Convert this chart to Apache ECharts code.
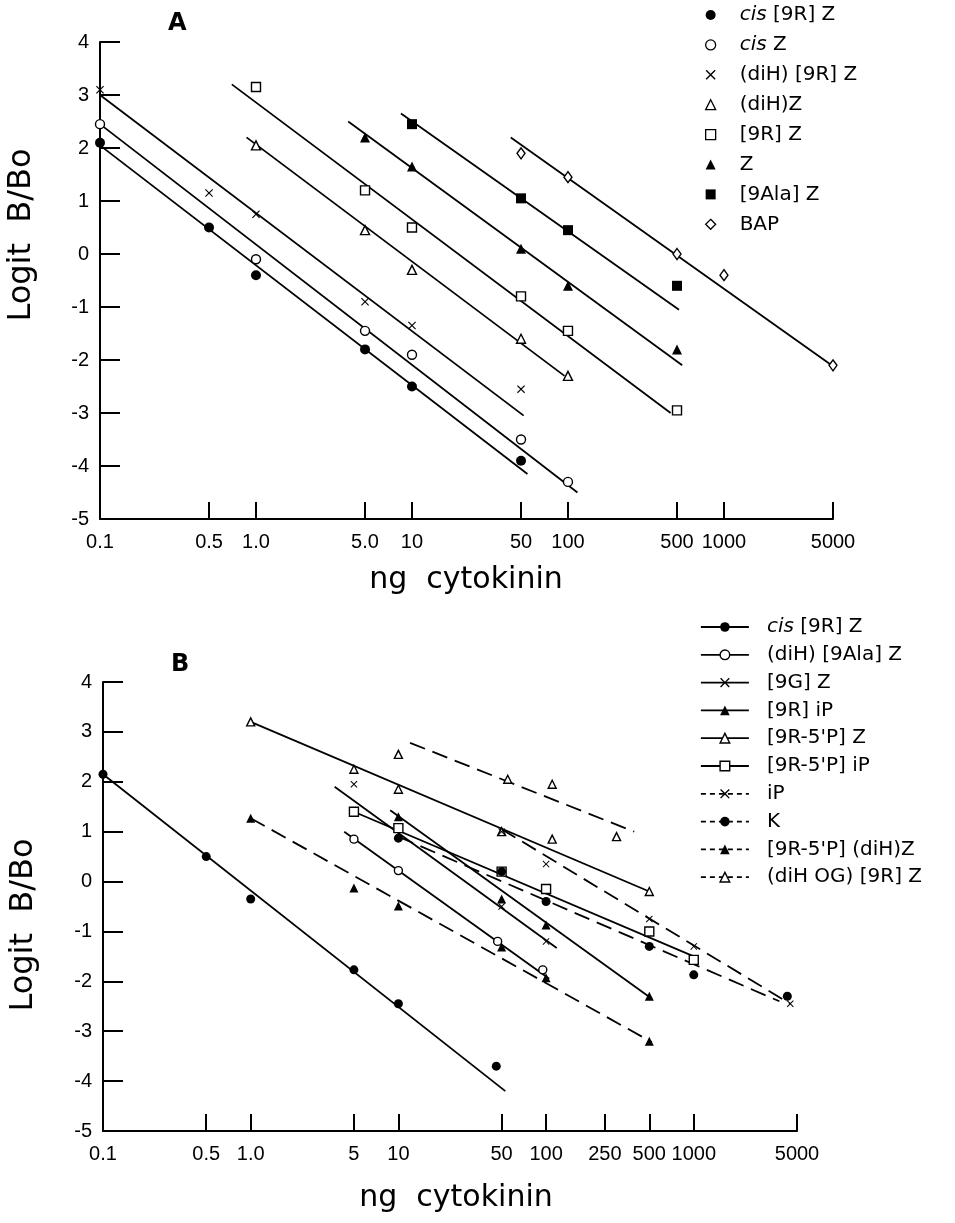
<!DOCTYPE html>
<html><head><meta charset="utf-8">
<script src="https://cdn.jsdelivr.net/npm/echarts@6/dist/echarts.min.js"></script>
<style>html,body{margin:0;padding:0;background:#fff}#c{width:955px;height:1223px}</style>
</head><body><div id="c"></div>
<script>
// ================= DATA =================
// ---- Panel A ----
const ticksA = [0.1, 0.5, 1, 5, 10, 50, 100, 500, 1000, 5000];
const tickLabelsA = ['0.1', '0.5', '1.0', '5.0', '10', '50', '100', '500', '1000', '5000'];
const yTicks = [-5, -4, -3, -2, -1, 0, 1, 2, 3, 4];
const namesA = ['cis [9R] Z', 'cis Z', '(diH) [9R] Z', '(diH)Z', '[9R] Z', 'Z', '[9Ala] Z', 'BAP'];

const A_cis9RZ_x = [0.1, 0.5, 1, 5, 10, 50];
const A_cis9RZ_y = [2.1, 0.5, -0.4, -1.8, -2.5, -3.9];
const A_cis9RZ_fit = [[0.1, 2.05], [55, -4.15]];

const A_cisZ_x = [0.1, 1, 5, 10, 50, 100];
const A_cisZ_y = [2.45, -0.1, -1.45, -1.9, -3.5, -4.3];
const A_cisZ_fit = [[0.1, 2.45], [115, -4.5]];

const A_diH9RZ_x = [0.1, 0.5, 1, 5, 10, 50];
const A_diH9RZ_y = [3.1, 1.15, 0.75, -0.9, -1.35, -2.55];
const A_diH9RZ_fit = [[0.1, 3.0], [52, -3.05]];

const A_diHZ_x = [1, 5, 10, 50, 100];
const A_diHZ_y = [2.05, 0.45, -0.3, -1.6, -2.3];
const A_diHZ_fit = [[0.87, 2.2], [95, -2.3]];

const A_9RZ_x = [1, 5, 10, 50, 100, 500];
const A_9RZ_y = [3.15, 1.2, 0.5, -0.8, -1.45, -2.95];
const A_9RZ_fit = [[0.7, 3.2], [455, -3.0]];

const A_Z_x = [5, 10, 50, 100, 500];
const A_Z_y = [2.2, 1.65, 0.1, -0.6, -1.8];
const A_Z_fit = [[3.9, 2.5], [540, -2.1]];

const A_9AlaZ_x = [10, 50, 100, 500];
const A_9AlaZ_y = [2.45, 1.05, 0.45, -0.6];
const A_9AlaZ_fit = [[8.5, 2.65], [515, -1.05]];

const A_BAP_x = [50, 100, 500, 1000, 5000];
const A_BAP_y = [1.9, 1.45, 0.0, -0.4, -2.1];
const A_BAP_fit = [[43, 2.2], [5800, -2.25]];

// ---- Panel B ----
const ticksB = [0.1, 0.5, 1, 5, 10, 50, 100, 250, 500, 1000, 5000];
const tickLabelsB = ['0.1', '0.5', '1.0', '5', '10', '50', '100', '250', '500', '1000', '5000'];
const namesB = ['cis [9R] Z', '(diH) [9Ala] Z', '[9G] Z', '[9R] iP', "[9R-5'P] Z", "[9R-5'P] iP", 'iP', 'K', "[9R-5'P] (diH)Z", '(diH OG) [9R] Z'];

const B_cis9RZ_x = [0.1, 0.5, 1, 5, 10, 46];
const B_cis9RZ_y = [2.15, 0.5, -0.35, -1.77, -2.45, -3.7];
const B_cis9RZ_fit = [[0.1, 2.15], [53, -4.2]];

const B_diH9AlaZ_x = [5, 10, 47, 95];
const B_diH9AlaZ_y = [0.85, 0.22, -1.2, -1.77];
const B_diH9AlaZ_fit = [[4.3, 1.0], [105, -1.95]];

const B_9GZ_x = [5, 50, 100];
const B_9GZ_y = [1.95, -0.5, -1.2];
const B_9GZ_fit = [[3.7, 1.9], [118, -1.33]];

const B_9RiP_x = [10, 50, 100, 500];
const B_9RiP_y = [1.3, -0.35, -0.87, -2.3];
const B_9RiP_fit = [[8.8, 1.43], [520, -2.35]];

const B_9R5PZ_x = [1, 5, 10, 50, 500];
const B_9R5PZ_y = [3.2, 2.25, 1.85, 1.0, -0.2];
const B_9R5PZ_fit = [[1, 3.2], [500, -0.2]];

const B_9R5PiP_x = [5, 10, 50, 100, 500, 1000];
const B_9R5PiP_y = [1.4, 1.07, 0.2, -0.15, -1.0, -1.57];
const B_9R5PiP_fit = [[5, 1.4], [1000, -1.5]];

const B_iP_x = [50, 100, 500, 1000, 4500];
const B_iP_y = [1.0, 0.35, -0.75, -1.3, -2.45];
const B_iP_fit = [[50, 1.05], [4500, -2.45]];

const B_K_x = [10, 50, 100, 500, 1000, 4300];
const B_K_y = [0.87, 0.2, -0.4, -1.3, -1.87, -2.3];
const B_K_fit = [[10, 0.9], [3800, -2.4]];

const B_9R5PdiHZ_x = [1, 5, 10, 50, 100, 500];
const B_9R5PdiHZ_y = [1.27, -0.13, -0.49, -1.31, -1.93, -3.2];
const B_9R5PdiHZ_fit = [[1, 1.27], [520, -3.22]];

const B_diHOG9RZ_x = [10, 55, 110, 110, 300];
const B_diHOG9RZ_y = [2.55, 2.05, 1.95, 0.85, 0.9];
const B_diHOG9RZ_fit = [[12, 2.78], [395, 1.0]];

// ================= STYLE =================
const FONT = '"DejaVu Sans", "Liberation Sans", sans-serif';
const TICKFONT = '"Liberation Sans", "DejaVu Sans", sans-serif';
const X_SYM = 'path://M0,1L1,0L5,4L9,0L10,1L6,5L10,9L9,10L5,6L1,10L0,9L4,5Z';
const FILLED = { color: '#000', opacity: 1 };
const OPEN = { color: '#fff', borderColor: '#000', borderWidth: 1.4, opacity: 1 };
const mk = (symbol, size, style) => ({ symbol, size, style });

const setsA = [
  { x: A_cis9RZ_x, y: A_cis9RZ_y, fit: A_cis9RZ_fit, m: mk('circle', 10, FILLED) },
  { x: A_cisZ_x, y: A_cisZ_y, fit: A_cisZ_fit, m: mk('circle', 9, OPEN) },
  { x: A_diH9RZ_x, y: A_diH9RZ_y, fit: A_diH9RZ_fit, m: mk(X_SYM, 8, FILLED) },
  { x: A_diHZ_x, y: A_diHZ_y, fit: A_diHZ_fit, m: mk('triangle', 9, OPEN) },
  { x: A_9RZ_x, y: A_9RZ_y, fit: A_9RZ_fit, m: mk('rect', 9, OPEN) },
  { x: A_Z_x, y: A_Z_y, fit: A_Z_fit, m: mk('triangle', 10, FILLED) },
  { x: A_9AlaZ_x, y: A_9AlaZ_y, fit: A_9AlaZ_fit, m: mk('rect', 10, FILLED) },
  { x: A_BAP_x, y: A_BAP_y, fit: A_BAP_fit, m: mk('diamond', [8, 11], OPEN) }
];
const setsB = [
  { x: B_cis9RZ_x, y: B_cis9RZ_y, fit: B_cis9RZ_fit, dash: false, m: mk('circle', 9, FILLED) },
  { x: B_diH9AlaZ_x, y: B_diH9AlaZ_y, fit: B_diH9AlaZ_fit, dash: false, m: mk('circle', 8, OPEN) },
  { x: B_9GZ_x, y: B_9GZ_y, fit: B_9GZ_fit, dash: false, m: mk(X_SYM, 7, FILLED) },
  { x: B_9RiP_x, y: B_9RiP_y, fit: B_9RiP_fit, dash: false, m: mk('triangle', 9, FILLED) },
  { x: B_9R5PZ_x, y: B_9R5PZ_y, fit: B_9R5PZ_fit, dash: false, m: mk('triangle', 8, OPEN) },
  { x: B_9R5PiP_x, y: B_9R5PiP_y, fit: B_9R5PiP_fit, dash: false, m: mk('rect', 9, OPEN) },
  { x: B_iP_x, y: B_iP_y, fit: B_iP_fit, dash: true, m: mk(X_SYM, 7, FILLED) },
  { x: B_K_x, y: B_K_y, fit: B_K_fit, dash: true, m: mk('circle', 9, FILLED) },
  { x: B_9R5PdiHZ_x, y: B_9R5PdiHZ_y, fit: B_9R5PdiHZ_fit, dash: true, m: mk('triangle', 9, FILLED) },
  { x: B_diHOG9RZ_x, y: B_diHOG9RZ_y, fit: B_diHOG9RZ_fit, dash: true, m: mk('triangle', 8, OPEN) }
];

const pts = (xs, ys) => xs.map((x, i) => [x, ys[i]]);
const keyB = n => 'B| ' + n;
const labelFor = (ticks, labels) => v => {
  let best = 0, bd = Infinity;
  ticks.forEach((t, i) => { const d = Math.abs(Math.log10(v) - Math.log10(t)); if (d < bd) { bd = d; best = i; } });
  return labels[best];
};
const legendFmt = name => {
  const d = name.replace(/^B\| /, '');
  return d.indexOf('cis') === 0 ? '{i|cis}' + d.slice(3) : d;
};

const series = [];
// Panel A: fitted lines then points
setsA.forEach((s, i) => {
  series.push({ type: 'line', name: 'fitA' + i, xAxisIndex: 0, yAxisIndex: 0, data: s.fit,
    symbol: 'none', clip: false, silent: true, lineStyle: { color: '#000', width: 1.8 }, z: 2 });
});
setsA.forEach((s, i) => {
  series.push({ type: 'scatter', name: namesA[i], xAxisIndex: 0, yAxisIndex: 0, data: pts(s.x, s.y),
    symbol: s.m.symbol, symbolSize: s.m.size, itemStyle: s.m.style, clip: false, z: 3 });
});
// Panel B: lines (named for legend icon) then points
setsB.forEach((s, i) => {
  series.push({ type: 'line', name: keyB(namesB[i]), xAxisIndex: 1, yAxisIndex: 1, data: s.fit,
    symbol: s.m.symbol, symbolSize: s.m.size, showSymbol: false, itemStyle: s.m.style,
    clip: false, silent: true, z: 2,
    lineStyle: { color: '#000', width: 1.8, type: s.dash ? [16, 8] : 'solid' } });
});
setsB.forEach((s, i) => {
  series.push({ type: 'scatter', name: keyB(namesB[i]), xAxisIndex: 1, yAxisIndex: 1, data: pts(s.x, s.y),
    symbol: s.m.symbol, symbolSize: s.m.size, itemStyle: s.m.style, clip: false, z: 3 });
});

const axisLine = { show: true, onZero: false, lineStyle: { color: '#000', width: 2 } };
const mkX = (grid, ticks, labels) => ({
  type: 'log', gridIndex: grid, logBase: 10, min: 0.1, max: 5000,
  axisLine,
  axisTick: { show: true, inside: true, length: 17, customValues: ticks, lineStyle: { color: '#000', width: 2 } },
  axisLabel: { show: true, customValues: ticks, formatter: labelFor(ticks, labels), color: '#000', fontSize: 20, fontFamily: TICKFONT, margin: 13 },
  splitLine: { show: false }, minorTick: { show: false }
});
const mkY = grid => ({
  type: 'value', gridIndex: grid, min: -5, max: 4, interval: 1,
  axisLine,
  axisTick: { show: true, inside: true, length: 20, lineStyle: { color: '#000', width: 2 } },
  axisLabel: { color: '#000', fontSize: 20, fontFamily: TICKFONT, margin: 11 },
  splitLine: { show: false }
});

const legendText = { fontFamily: FONT, fontSize: 20, color: '#000', lineHeight: 20,
  rich: { i: { fontStyle: 'italic', fontFamily: FONT, fontSize: 20, color: '#000' } } };

const option = {
  animation: false,
  backgroundColor: '#fff',
  title: [
    { text: 'A', left: 163, top: 7, textStyle: { fontFamily: FONT, fontWeight: 'bold', fontSize: 24, color: '#000' } },
    { text: 'B', left: 166, top: 648, textStyle: { fontFamily: FONT, fontWeight: 'bold', fontSize: 24, color: '#000' } }
  ],
  grid: [
    { left: 100, right: 122, top: 42, bottom: 704 },
    { left: 103, right: 158, top: 682, bottom: 92 }
  ],
  xAxis: [mkX(0, ticksA, tickLabelsA), mkX(1, ticksB, tickLabelsB)],
  yAxis: [mkY(0), mkY(1)],
  legend: [
    { orient: 'vertical', left: 700, top: 0, itemWidth: 10, itemHeight: 10, itemGap: 9.9,
      symbolKeepAspect: true,
      selectedMode: false, data: namesA, formatter: legendFmt,
      textStyle: Object.assign({}, legendText, { padding: [0, 0, 0, 19] }),
      itemStyle: { borderWidth: 1.3 } },
    { orient: 'vertical', left: 695, top: 612, itemWidth: 48, itemHeight: 12, itemGap: 7.8,
      selectedMode: false, formatter: legendFmt,
      textStyle: Object.assign({}, legendText, { padding: [0, 0, 0, 13] }),
      itemStyle: { borderWidth: 1.4 },
      lineStyle: { width: 1.8 },
      data: setsB.map((s, i) => s.dash ? { name: keyB(namesB[i]), lineStyle: { type: [5, 4] } } : { name: keyB(namesB[i]) }) }
  ],
  graphic: [
    { type: 'text', x: 22, y: 235, rotation: Math.PI / 2,
      style: { text: 'Logit  B/Bo', font: '32px ' + FONT, fill: '#000', align: 'center', verticalAlign: 'middle' } },
    { type: 'text', x: 24, y: 925, rotation: Math.PI / 2,
      style: { text: 'Logit  B/Bo', font: '32px ' + FONT, fill: '#000', align: 'center', verticalAlign: 'middle' } },
    { type: 'text', x: 466, y: 580,
      style: { text: 'ng  cytokinin', font: '30px ' + FONT, fill: '#000', align: 'center', verticalAlign: 'middle' } },
    { type: 'text', x: 456, y: 1198,
      style: { text: 'ng  cytokinin', font: '30px ' + FONT, fill: '#000', align: 'center', verticalAlign: 'middle' } }
  ],
  series
};
const chart = echarts.init(document.getElementById('c'), null, { renderer: 'canvas' });
chart.setOption(option);
</script></body></html>
